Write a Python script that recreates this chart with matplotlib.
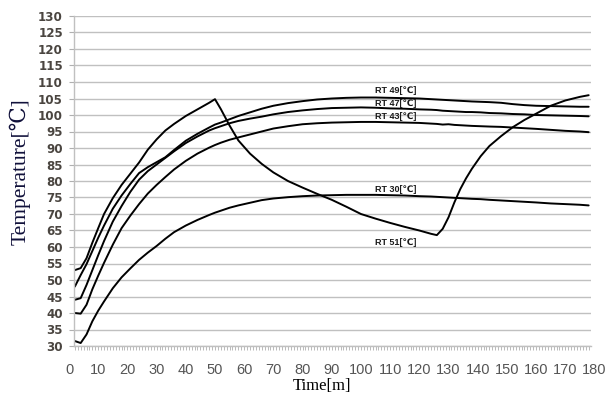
import matplotlib
matplotlib.use('Agg')
import matplotlib.pyplot as plt
from matplotlib.ticker import MultipleLocator, NullLocator
import matplotlib.transforms as mtransforms

# ---- data (minutes, degC) ----
time = [2, 4, 6, 8, 10, 12, 15, 18, 21, 24, 27, 30, 33, 36, 40, 44, 48, 50, 52, 55,
        58, 62, 66, 70, 75, 80, 85, 90, 95, 100, 105, 110, 115, 120, 124, 126, 128,
        130, 132, 134, 136, 138, 141, 144, 148, 152, 156, 160, 165, 170, 175, 178]

rt51 = [53.0, 53.6, 56.6, 61.3, 65.7, 70.0, 74.8, 78.8, 82.2, 85.6, 89.5, 92.6, 95.3,
        97.3, 99.7, 101.7, 103.7, 104.8, 101.8, 96.8, 92.3, 88.3, 85.2, 82.6, 80.0,
        78.0, 76.1, 74.3, 72.2, 70.0, 68.6, 67.3, 66.1, 65.0, 64.0, 63.6, 65.5, 69.0,
        73.5, 77.5, 80.8, 83.7, 87.5, 90.6, 93.6, 96.3, 98.5, 100.4, 102.8, 104.4,
        105.5, 106.0]

rt49 = [48.0, 51.5, 54.8, 58.8, 62.8, 66.5, 71.6, 75.6, 79.1, 82.4, 84.2, 85.7, 87.2,
        89.4, 92.2, 94.3, 96.2, 97.1, 97.7, 98.7, 99.7, 100.8, 101.9, 102.8, 103.6,
        104.2, 104.7, 105.0, 105.2, 105.3, 105.3, 105.2, 105.1, 105.0, 104.8, 104.7,
        104.6, 104.5, 104.4, 104.3, 104.2, 104.1, 104.0, 103.9, 103.7, 103.3, 103.0,
        102.8, 102.7, 102.6, 102.5, 102.5]

rt47 = [44.0, 44.5, 48.5, 53.0, 57.5, 61.8, 67.7, 72.4, 76.7, 80.4, 83.0, 85.0, 87.0,
        89.0, 91.5, 93.5, 95.3, 96.0, 96.6, 97.5, 98.2, 98.9, 99.5, 100.2, 100.9,
        101.4, 101.8, 102.1, 102.2, 102.3, 102.2, 102.0, 101.9, 101.7, 101.6, 101.5,
        101.3, 101.2, 101.1, 101.0, 100.9, 100.9, 100.8, 100.6, 100.5, 100.3, 100.2,
        100.0, 99.9, 99.8, 99.7, 99.6]

rt43 = [40.0, 39.8, 42.5, 47.2, 51.3, 55.2, 60.7, 65.7, 69.5, 73.0, 76.2, 78.8, 81.2,
        83.5, 86.1, 88.3, 90.1, 90.9, 91.6, 92.5, 93.2, 94.1, 95.0, 95.9, 96.6, 97.2,
        97.5, 97.7, 97.8, 97.9, 97.9, 97.8, 97.7, 97.6, 97.4, 97.3, 97.1, 97.2, 97.0,
        96.9, 96.8, 96.7, 96.6, 96.5, 96.4, 96.2, 96.0, 95.8, 95.5, 95.2, 95.0, 94.8]

rt30 = [31.5, 30.9, 33.5, 37.5, 40.7, 43.5, 47.5, 50.8, 53.5, 56.1, 58.3, 60.3, 62.5,
        64.5, 66.5, 68.2, 69.7, 70.4, 71.0, 71.9, 72.6, 73.4, 74.2, 74.7, 75.1, 75.4,
        75.6, 75.7, 75.8, 75.8, 75.8, 75.7, 75.6, 75.4, 75.3, 75.2, 75.1, 75.0, 74.9,
        74.8, 74.7, 74.6, 74.5, 74.3, 74.1, 73.9, 73.7, 73.5, 73.2, 73.0, 72.8, 72.6]

series_names = ['RT 51[℃]', 'RT 49[℃]', 'RT 47[℃]', 'RT 43[℃]', 'RT 30[℃]']
series_values = [rt51, rt49, rt47, rt43, rt30]
x_tick_labels = list(range(0, 181, 10))
y_ticks = list(range(30, 131, 5))

# ---- figure ----
W, H = 606, 401
fig = plt.figure(figsize=(W / 100, H / 100), dpi=100)
ax = fig.add_axes([74 / W, 1 - 346 / H, (590.7 - 74) / W, (346 - 16) / H])

for vals in series_values:
    ax.plot(time, vals, color='black', lw=1.4, solid_joinstyle='round',
            solid_capstyle='round')

# series labels
label_pos = {'RT 49[℃]': 107.3, 'RT 47[℃]': 103.5, 'RT 43[℃]': 99.5,
             'RT 30[℃]': 77.3, 'RT 51[℃]': 61.3}
for name in series_names:
    ax.text(104.8, label_pos[name], name, fontsize=6.5, fontweight='bold',
            family=['Liberation Sans', 'DejaVu Sans'], ha='left', va='center',
            color='#1a1a1a')

ax.set_xlim(1.71, 178.7)
ax.set_ylim(30, 130)
ax.set_yticks(y_ticks)
ax.set_yticklabels([str(v) for v in y_ticks])
ax.yaxis.grid(True, color='#c0c0c0', lw=1.0)
ax.set_axisbelow(True)

for s in ['top', 'right']:
    ax.spines[s].set_visible(False)
ax.spines['left'].set_color('#c0c0c0')
ax.spines['bottom'].set_color('#c0c0c0')
ax.spines['left'].set_linewidth(1.0)
ax.spines['bottom'].set_linewidth(1.0)

ax.xaxis.set_major_locator(NullLocator())
ax.xaxis.set_minor_locator(MultipleLocator(1))
ax.tick_params(axis='x', which='minor', length=2.8, width=0.6, color='#b0b0b0',
               direction='out')
ax.tick_params(axis='y', which='major', length=3.6, width=0.8, color='#b0b0b0',
               pad=4.3, labelsize=8.6, labelcolor='#4a4540')
for lab in ax.get_yticklabels():
    lab.set_family('DejaVu Sans')
    lab.set_fontweight('bold')

trans = mtransforms.blended_transform_factory(ax.transData, ax.transAxes)
for v in x_tick_labels:
    ax.text(v, -24 / 330, str(v), transform=trans, ha='center', va='center',
            fontsize=10.5, family=['Liberation Sans Narrow', 'Liberation Sans'],
            color='#555555', clip_on=False)

fig.text(322 / W, 1 - 386 / H, 'Time[m]', ha='center', va='center', fontsize=12,
         family=['Liberation Serif', 'DejaVu Serif'], color='black')
fig.text(20 / W, 1 - 172 / H, 'Temperature[℃]', ha='center', va='center',
         rotation=90, fontsize=15.5,
         family=['Liberation Serif', 'DejaVu Serif', 'DejaVu Sans'], color='#10103a')

fig.savefig('out.png', dpi=100)
